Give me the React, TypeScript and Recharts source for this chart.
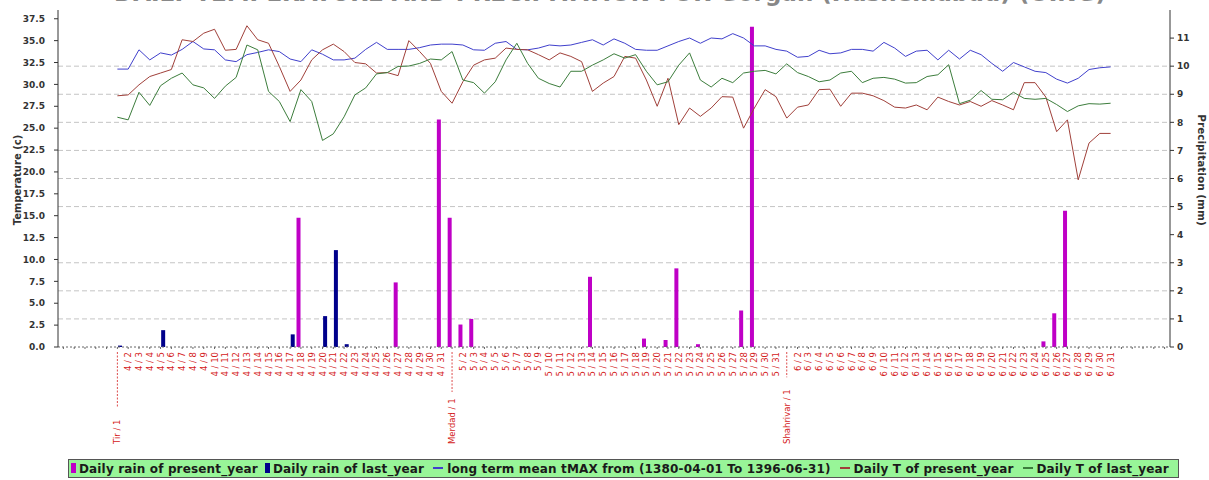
import { ComposedChart, Bar, Line, XAxis, YAxis, CartesianGrid } from "recharts";

// Persian calendar months shown on the axis (Tir, Mordad, Shahrivar)
const MONTH_NUMS = [4, 5, 6];
const MONTH_NAMES = ["Tir", "Merdad", "Shahrivar"];
const DAYS_IN_MONTH = 31;
const EMPTY_BEFORE = 5;
const EMPTY_AFTER = 5;

const TEMP_TICKS = [0, 2.5, 5, 7.5, 10, 12.5, 15, 17.5, 20, 22.5, 25, 27.5, 30, 32.5, 35, 37.5];
const RAIN_TICKS = [0, 1, 2, 3, 4, 5, 6, 7, 8, 9, 10, 11];
const GRID_MM = [1, 2, 3, 5, 6, 7, 8, 9, 10];

// daily rain (mm), 93 days from 4/1 to 6/31
const RAIN_PRESENT = [
  0, 0, 0, 0, 0, 0, 0, 0, 0, 0, 0, 0, 0, 0, 0, 0, 0, 4.6, 0, 0, 0, 0, 0, 0, 0, 0, 2.3, 0, 0, 0, 8.1,
  4.6, 0.8, 1.0, 0, 0, 0, 0, 0, 0, 0, 0, 0, 0, 2.5, 0, 0, 0, 0, 0.3, 0, 0.25, 2.8, 0, 0.1, 0, 0, 0, 1.3, 11.4, 0, 0,
  0, 0, 0, 0, 0, 0, 0, 0, 0, 0, 0, 0, 0, 0, 0, 0, 0, 0, 0, 0, 0, 0, 0, 0, 0.2, 1.2, 4.85, 0, 0,
];
const RAIN_LAST = [
  0.05, 0, 0, 0, 0.6, 0, 0, 0, 0, 0, 0, 0, 0, 0, 0, 0, 0.45, 0, 0, 1.1, 3.45, 0.1, 0, 0, 0, 0, 0, 0, 0, 0, 0,
  0, 0, 0, 0, 0, 0, 0, 0, 0, 0, 0, 0, 0, 0, 0, 0, 0, 0, 0, 0, 0, 0, 0, 0, 0, 0, 0, 0, 0, 0, 0,
  0, 0, 0, 0, 0, 0, 0, 0, 0, 0, 0, 0, 0, 0, 0, 0, 0, 0, 0, 0, 0, 0, 0, 0, 0, 0, 0, 0, 0, 0, 0,
];

// temperatures (c)
const T_LONG_TERM = [
  31.75, 31.75, 33.95, 32.8, 33.6, 33.35, 34.0, 34.9, 34.05, 33.95, 32.8, 32.6, 33.4, 33.65, 33.95, 33.75,
  32.9, 32.6, 33.95, 33.45, 32.8, 32.8, 33.0, 34.0, 34.8, 34.0, 34.0, 34.0, 34.2, 34.5, 34.6,
  34.6, 34.5, 33.95, 33.9, 34.7, 34.9, 34.0, 33.95, 34.15, 34.5, 34.4, 34.5, 34.8, 35.1, 34.5, 35.2,
  34.7, 34.0, 33.9, 33.9, 34.4, 34.9, 35.3, 34.7, 35.3, 35.2, 35.8, 35.3, 34.4, 34.4, 34.0,
  33.8, 33.1, 33.2, 33.9, 33.5, 33.6, 34.0, 34.0, 33.8, 34.8, 34.15, 33.2, 33.8, 33.9, 32.8, 33.9,
  32.9, 33.9, 33.4, 32.4, 31.5, 32.5, 32.0, 31.5, 31.35, 30.6, 30.15, 30.7, 31.7, 31.9, 32.0,
];
const T_PRESENT = [
  28.7, 28.8, 29.95, 30.9, 31.3, 31.7, 35.1, 34.9, 35.85, 36.3, 33.9, 34.0, 36.7, 35.1, 34.7, 32.05,
  29.2, 30.5, 32.8, 33.95, 34.6, 33.75, 32.5, 32.35, 31.3, 31.35, 31.0, 35.0, 33.75, 32.4, 29.2,
  27.85, 30.3, 32.2, 32.8, 33.0, 34.15, 34.0, 33.95, 33.4, 32.8, 33.6, 33.2, 32.6, 29.2, 30.15, 30.9,
  33.2, 33.0, 30.5, 27.5, 30.7, 25.4, 27.3, 26.35, 27.3, 28.6, 28.55, 25.0, 27.3, 29.4, 28.6,
  26.15, 27.4, 27.65, 29.4, 29.45, 27.5, 29.0, 29.0, 28.7, 28.15, 27.4, 27.3, 27.65, 27.1, 28.55, 28.05,
  27.65, 28.05, 27.5, 28.15, 27.65, 27.1, 30.2, 30.2, 28.55, 24.6, 25.95, 19.1, 23.3, 24.4, 24.4,
];
const T_LAST = [
  26.25, 25.95, 29.1, 27.6, 29.85, 30.7, 31.3, 29.95, 29.6, 28.4, 29.8, 30.8, 34.5, 33.95, 29.2, 28.05,
  25.75, 29.4, 28.05, 23.6, 24.35, 26.3, 28.8, 29.6, 31.2, 31.35, 32.05, 32.1, 32.4, 32.9, 32.8,
  33.75, 30.5, 30.2, 29.0, 30.3, 32.8, 34.7, 32.4, 30.7, 30.1, 29.7, 31.5, 31.5, 32.2, 32.8, 33.5,
  33.0, 33.4, 31.5, 29.95, 30.3, 32.2, 33.6, 30.5, 29.7, 30.7, 30.2, 31.3, 31.5, 31.6, 31.2,
  32.35, 31.35, 30.9, 30.3, 30.5, 31.3, 31.5, 30.2, 30.7, 30.8, 30.6, 30.15, 30.2, 30.9, 31.1, 32.25,
  27.8, 28.2, 29.3, 28.3, 28.25, 29.1, 28.4, 28.3, 28.4, 27.7, 26.9, 27.55, 27.8, 27.75, 27.85,
];

const PINK = "#bf00c6";
const NAVY = "#00008b";
const BLUE = "#4040cc";
const BROWN = "#a0403a";
const GREEN = "#3c7d3c";
const LABEL_RED = "#d42020";
const FONT = "DejaVu Sans, sans-serif";

type Row = {
  key: string;
  label: string;
  first: boolean;
  rainPresent?: number;
  rainLast?: number;
  tLong?: number;
  tPresent?: number;
  tLast?: number;
};

const days = MONTH_NUMS.flatMap((m, mi) =>
  Array.from({ length: DAYS_IN_MONTH }, (_, d) => ({ month: m, name: MONTH_NAMES[mi], day: d + 1 }))
);

const data: Row[] = [
  ...Array.from({ length: EMPTY_BEFORE }, (_, k) => ({ key: `pre${k}`, label: "", first: false })),
  ...days.map((d, i) => ({
    key: `${d.month}/${d.day}`,
    label: d.day === 1 ? `${d.name} / 1` : `${d.month} / ${d.day}`,
    first: d.day === 1,
    rainPresent: RAIN_PRESENT[i],
    rainLast: RAIN_LAST[i],
    tLong: T_LONG_TERM[i],
    tPresent: T_PRESENT[i],
    tLast: T_LAST[i],
  })),
  ...Array.from({ length: EMPTY_AFTER }, (_, k) => ({ key: `post${k}`, label: "", first: false })),
];

const rowByKey = new Map(data.map((r) => [r.key, r]));

function DayTick(props: any) {
  const { x, y, payload } = props;
  const row = rowByKey.get(payload.value);
  if (!row || !row.label) return null;
  if (row.first) {
    // month start: name at the bottom, dashed leader up to the axis
    const bottom = y + 92;
    const len = row.label.length * 4.9;
    return (
      <g>
        <line x1={x} x2={x} y1={y} y2={bottom - len - 3} stroke={LABEL_RED} strokeWidth={0.8} strokeDasharray="2 1.5" />
        <text x={x} y={bottom} dy={3} transform={`rotate(-90 ${x} ${bottom})`} textAnchor="start" fontSize={8.5} fontFamily={FONT} fill={LABEL_RED}>
          {row.label}
        </text>
      </g>
    );
  }
  return (
    <text x={x} y={y} dy={3} transform={`rotate(-90 ${x} ${y})`} textAnchor="end" fontSize={8.5} fontFamily={FONT} fill={LABEL_RED}>
      {row.label}
    </text>
  );
}

// grid follows the precipitation ticks, some of which have no line in the original
function GridLine(props: any) {
  const { x1, x2, y1, y2, index } = props;
  if (!GRID_MM.includes(RAIN_TICKS[index])) return null;
  return <line x1={x1} x2={x2} y1={y1} y2={y2} stroke="#c4c4c4" strokeDasharray="5 3" />;
}

function LegendBox() {
  const sq = (c: string) => (
    <span style={{ display: "inline-block", width: 5, height: 10, background: c, marginRight: 3 }} />
  );
  const ln = (c: string) => (
    <span style={{ display: "inline-block", width: 10, height: 2, background: c, margin: "0 4px 3px 2px", verticalAlign: "middle" }} />
  );
  return (
    <div
      style={{
        position: "absolute",
        left: 68,
        top: 459,
        width: 1111,
        height: 19,
        boxSizing: "border-box",
        background: "#98f598",
        border: "1px solid #555",
        fontFamily: FONT,
        fontSize: 12,
        fontWeight: "bold",
        letterSpacing: 0.15,
        color: "#1a1a1a",
        whiteSpace: "nowrap",
        display: "flex",
        alignItems: "center",
        paddingLeft: 2,
        gap: 7,
      }}
    >
      <span>{sq(PINK)}Daily rain of present_year</span>
      <span>{sq(NAVY)}Daily rain of last_year</span>
      <span>{ln(BLUE)}long term mean tMAX from (1380-04-01 To 1396-06-31)</span>
      <span>{ln(BROWN)}Daily T of present_year</span>
      <span>{ln(GREEN)}Daily T of last_year</span>
    </div>
  );
}

export default function App() {
  return (
    <div style={{ position: "absolute", left: 0, top: 0, width: 1209, height: 480, background: "#fff", overflow: "hidden" }}>
      <div
        style={{
          position: "absolute",
          left: 0,
          top: -20,
          width: 1220,
          textAlign: "center",
          fontFamily: FONT,
          fontSize: 23,
          fontWeight: "bold",
          color: "#888",
          whiteSpace: "nowrap",
        }}
      >
        DAILY TEMPERATURE AND PRECIPITATION FOR Gorgan (Hashemabad) (OING)
      </div>
      <ComposedChart
        width={1209}
        height={480}
        data={data}
        margin={{ top: 10, right: 0, bottom: 23, left: 0 }}
        barGap={1}
      >
        <CartesianGrid yAxisId="right" vertical={false} horizontal={<GridLine />} />
        <XAxis
          dataKey="key"
          interval={0}
          height={110}
          tickSize={2}
          tickMargin={3}
          axisLine={{ stroke: "#666", strokeDasharray: "2 2" }}
          tickLine={{ stroke: "#666" }}
          tick={<DayTick />}
        />
        <YAxis
          yAxisId="left"
          orientation="left"
          width={58}
          domain={[0, 38.5]}
          ticks={TEMP_TICKS}
          interval={0}
          tickFormatter={(v: number) => v.toFixed(1)}
          tickSize={4}
          tickMargin={9}
          axisLine={{ stroke: "#333" }}
          tickLine={{ stroke: "#333" }}
          tick={{ fontSize: 9, fill: "#333", fontFamily: FONT, fontWeight: "bold" }}
        />
        <YAxis
          yAxisId="right"
          orientation="right"
          width={39}
          domain={[0, 12]}
          ticks={RAIN_TICKS}
          interval={0}
          tickSize={4}
          tickMargin={3}
          axisLine={{ stroke: "#333" }}
          tickLine={{ stroke: "#333" }}
          tick={{ fontSize: 9, fill: "#333", fontFamily: FONT, fontWeight: "bold" }}
        />
        <Line yAxisId="left" type="linear" dataKey="tLong" stroke={BLUE} strokeWidth={1} dot={false} isAnimationActive={false} />
        <Line yAxisId="left" type="linear" dataKey="tPresent" stroke={BROWN} strokeWidth={1} dot={false} isAnimationActive={false} />
        <Line yAxisId="left" type="linear" dataKey="tLast" stroke={GREEN} strokeWidth={1} dot={false} isAnimationActive={false} />
        <Bar yAxisId="right" dataKey="rainPresent" fill={PINK} barSize={4} isAnimationActive={false} />
        <Bar yAxisId="right" dataKey="rainLast" fill={NAVY} barSize={4} isAnimationActive={false} />
      </ComposedChart>
      <div
        style={{
          position: "absolute",
          left: 17,
          top: 180,
          transform: "translate(-50%, -50%) rotate(-90deg)",
          fontFamily: FONT,
          fontSize: 10,
          fontWeight: "bold",
          color: "#333",
          whiteSpace: "nowrap",
        }}
      >
        Temperature (c)
      </div>
      <div
        style={{
          position: "absolute",
          left: 1202,
          top: 170,
          transform: "translate(-50%, -50%) rotate(90deg)",
          fontFamily: FONT,
          fontSize: 10.5,
          fontWeight: "bold",
          color: "#333",
          whiteSpace: "nowrap",
        }}
      >
        Precipitation (mm)
      </div>
      <LegendBox />
    </div>
  );
}
